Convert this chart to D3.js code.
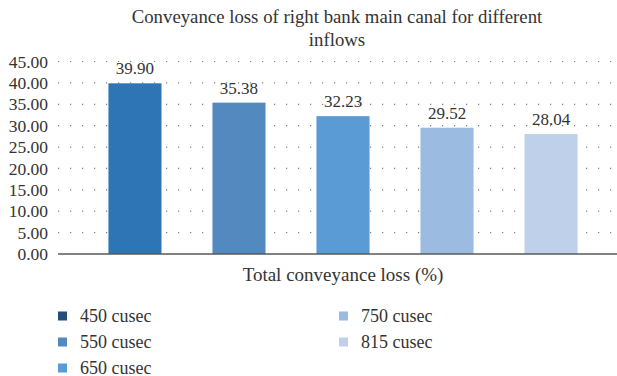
<!DOCTYPE html>
<html><head><meta charset="utf-8">
<script src="https://cdn.jsdelivr.net/npm/d3@7"></script>
<style>body{margin:0;background:#fff}</style>
</head><body><svg id="c" width="617" height="376" font-family="Liberation Serif"></svg>
<script>
const series = ["450 cusec","550 cusec","650 cusec","750 cusec","815 cusec"];
const values = [39.90, 35.38, 32.23, 29.52, 28.04];
const barColors = ["#2e75b6","#5289be","#5b9bd5","#9bbbe0","#bfd1ea"];
const legendColors = ["#264e7a","#5289be","#5b9bd5","#9bbbe0","#bfd1ea"];
const yTicks = [0,5,10,15,20,25,30,35,40,45];
const titleLines = ["Conveyance loss of right bank main canal for different","inflows"];
const xTitle = "Total conveyance loss (%)";

const svg = d3.select("#c");
const FF = "Liberation Serif";
const txt = "#333";
const y = d3.scaleLinear().domain([0,45]).range([254,61.5]);
const x = d3.scaleBand().domain(series).range([58,628]).paddingInner(0.49).paddingOuter(0.485);

// gridlines
svg.append("g").selectAll("line").data(yTicks.filter(d=>d>0)).join("line")
  .attr("x1",58).attr("x2",617).attr("y1",d=>y(d)).attr("y2",d=>y(d))
  .attr("stroke","#7f7f7f").attr("stroke-width",1.2).attr("stroke-dasharray","1.2,10.8");

// y axis labels
const ya = d3.axisLeft(y).tickValues(yTicks).tickFormat(d3.format(".2f")).tickSize(0).tickPadding(10);
const g = svg.append("g").attr("transform","translate(58,0)").call(ya);
g.attr("font-family",FF).attr("font-size",17.5);
g.select(".domain").remove();
g.selectAll("text").attr("font-family",FF).attr("font-size",17.5).attr("fill",txt);

// bars
svg.append("g").selectAll("rect").data(series).join("rect")
  .attr("x",d=>x(d)).attr("width",x.bandwidth())
  .attr("y",(d,i)=>y(values[i])).attr("height",(d,i)=>y(0)-y(values[i]))
  .attr("fill",(d,i)=>barColors[i]);

// labels
svg.append("g").selectAll("text").data(series).join("text")
  .attr("x",d=>x(d)+x.bandwidth()/2).attr("y",(d,i)=>y(values[i])-9)
  .attr("text-anchor","middle").attr("font-family",FF).attr("font-size",17).attr("fill",txt)
  .text((d,i)=>values[i].toFixed(2));

// axis line
svg.append("line").attr("x1",58).attr("x2",617).attr("y1",y(0)).attr("y2",y(0))
  .attr("stroke","#595959").attr("stroke-width",1.5);

// title
svg.append("g").selectAll("text").data(titleLines).join("text")
  .attr("x",337).attr("y",(d,i)=>23+i*23).attr("text-anchor","middle")
  .attr("font-family",FF).attr("font-size",18.8).attr("fill",txt).text(d=>d);

svg.append("text").attr("x",343).attr("y",281).attr("text-anchor","middle")
  .attr("font-family",FF).attr("font-size",19).attr("fill",txt).text(xTitle);

// legend
const lg = svg.append("g").selectAll("g").data(series).join("g")
  .attr("transform",(d,i)=>`translate(${i<3?58:339},${[316,342,368][i%3]})`);
lg.append("rect").attr("x",0).attr("y",-4.5).attr("width",9).attr("height",9).attr("fill",(d,i)=>legendColors[i]);
lg.append("text").attr("x",22).attr("y",6).attr("font-family",FF).attr("font-size",18).attr("fill",txt).text(d=>d);
</script></body></html>
